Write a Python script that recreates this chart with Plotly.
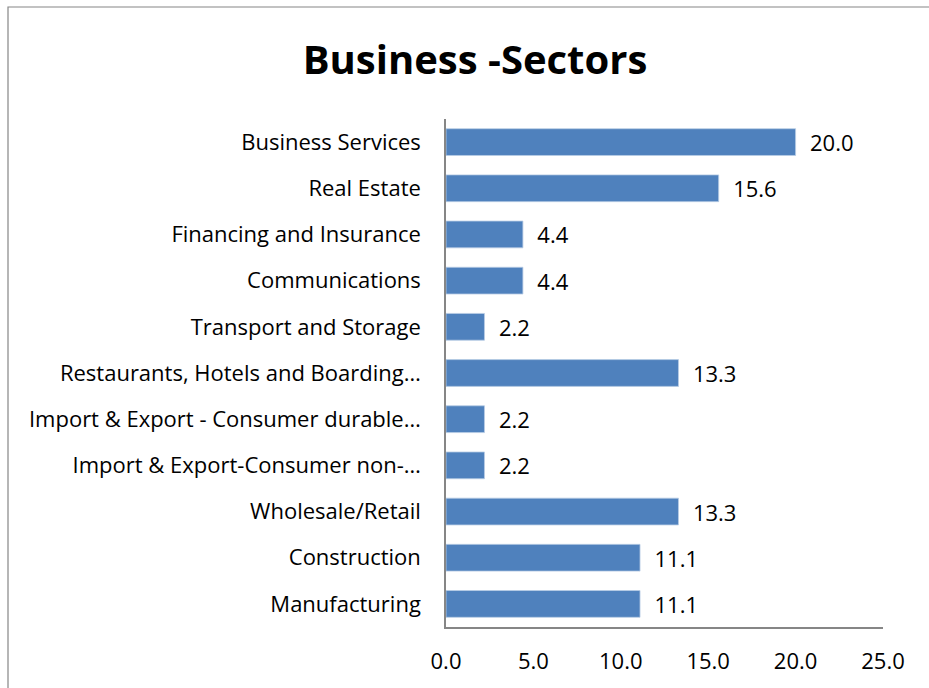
import plotly.graph_objects as go

# Share of businesses by sector (%), listed top to bottom
sectors = [
    "Business Services",
    "Real Estate",
    "Financing and Insurance",
    "Communications",
    "Transport and Storage",
    "Restaurants, Hotels and Boarding…",
    "Import & Export - Consumer durable…",
    "Import & Export-Consumer non-…",
    "Wholesale/Retail",
    "Construction",
    "Manufacturing",
]
shares = [20.0, 15.6, 4.4, 4.4, 2.2, 13.3, 2.2, 2.2, 13.3, 11.1, 11.1]
x_ticks = [0, 5, 10, 15, 20, 25]
x_tick_text = ["0.0", "5.0", "10.0", "15.0", "20.0", "25.0"]

W, H = 929, 688
ML, MR, MT, MB = 446, 46, 119, 61
FONT = "Open Sans"
FS = 22

fig = go.Figure(
    go.Bar(
        y=sectors[::-1],
        x=shares[::-1],
        orientation="h",
        width=0.58,
        marker=dict(color="#4F81BD", line=dict(color="#B9CDE5", width=0.8)),
        text=[f"\u00a0\u00a0{v:.1f}" for v in shares[::-1]],
        textposition="outside",
        constraintext="none",
        textfont=dict(family=FONT, size=FS, color="#000000"),
        cliponaxis=False,
    )
)

pw = W - ML - MR
ph = H - MT - MB

fig.update_layout(
    width=W,
    height=H,
    margin=dict(l=ML, r=MR, t=MT, b=MB),
    paper_bgcolor="white",
    plot_bgcolor="white",
    showlegend=False,
    title=dict(
        text="<b>Business -Sectors</b>",
        x=475 / W,
        xanchor="center",
        y=1 - 60 / H,
        yanchor="middle",
        font=dict(family=FONT, size=40, color="#000000"),
    ),
    font=dict(family=FONT, size=FS, color="#000000"),
    bargap=0.42,
    shapes=[
        # outer chart frame (continues past the right and bottom edges)
        dict(
            type="rect",
            xref="paper",
            yref="paper",
            x0=(8 - ML) / pw,
            x1=(W + 20 - ML) / pw,
            y0=-(MB + 20) / ph,
            y1=(H - MB - 7) / ph,
            line=dict(color="#868686", width=1.2),
            fillcolor="rgba(0,0,0,0)",
            layer="below",
        )
    ],
)

fig.update_xaxes(
    range=[0, 25],
    tickvals=x_ticks,
    ticktext=x_tick_text,
    automargin=False,
    showgrid=False,
    zeroline=False,
    showline=True,
    linecolor="#868686",
    linewidth=1.5,
    ticks="outside",
    ticklen=0,
    ticklabelstandoff=14,
    tickfont=dict(family=FONT, size=FS, color="#000000"),
)
fig.update_yaxes(
    automargin=False,
    showgrid=False,
    zeroline=False,
    showline=True,
    linecolor="#868686",
    linewidth=1.5,
    ticks="outside",
    ticklen=0,
    ticklabelstandoff=19,
    tickfont=dict(family=FONT, size=FS, color="#000000"),
)

fig.write_html("out.html")
